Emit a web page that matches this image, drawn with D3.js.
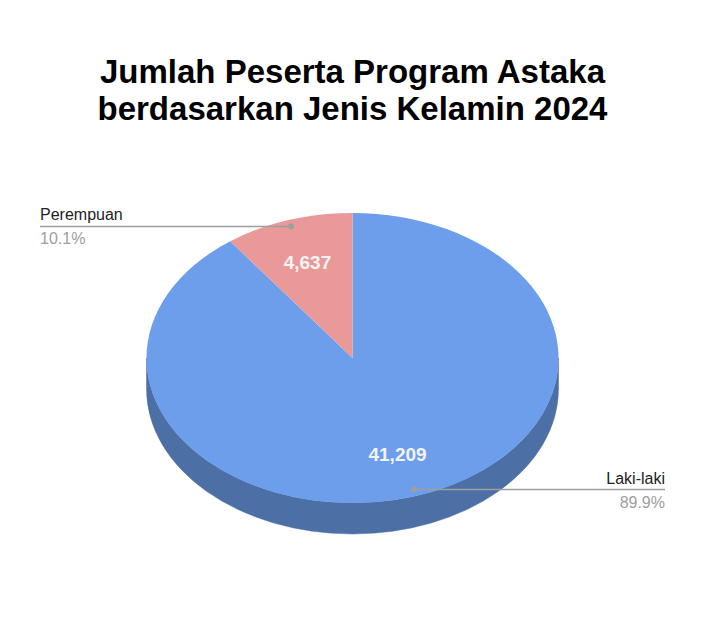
<!DOCTYPE html>
<html>
<head>
<meta charset="utf-8">
<script src="https://cdn.jsdelivr.net/npm/d3@7"></script>
<style>
  body { margin: 0; background: #fff; }
  text { font-family: "Liberation Sans", Arial, sans-serif; }
</style>
</head>
<body>
<div id="chart"></div>
<script>
// chart data
const categories = ["Laki-laki", "Perempuan"];
const values = [41209, 4637];
const titleLines = ["Jumlah Peserta Program Astaka", "berdasarkan Jenis Kelamin 2024"];
const colors = ["#6d9eeb", "#ea9999"];
const sideColors = ["#4c70a6", "#a66b6b"];

const w = 705;
const h = 640;

// pie geometry (ellipse seen at an angle)
const cx = 352.5;
const cy = 358;
const rx = 206;
const ry = 145;
const depth = 31;

const svg = d3
  .select("#chart")
  .append("svg")
  .attr("width", w)
  .attr("height", h);

// title
svg
  .append("text")
  .attr("x", cx)
  .attr("y", 83)
  .attr("text-anchor", "middle")
  .style("font-size", "33px")
  .style("font-weight", "bold")
  .style("fill", "#000")
  .selectAll("tspan")
  .data(titleLines)
  .enter()
  .append("tspan")
  .attr("x", cx)
  .attr("dy", (d, i) => (i === 0 ? 0 : 37))
  .text((d) => d);

const pie = d3.pie().sort(null).value((d) => d)(values);
const total = d3.sum(values);

// point on ellipse for d3 angle (clockwise from 12 o'clock)
const pt = (a, r, dy = 0) => [cx + rx * r * Math.sin(a), cy - ry * r * Math.cos(a) + dy];

// side walls: only the front half (angles between PI/2 and 3PI/2) is visible
pie.forEach((s, i) => {
  const a0 = Math.max(s.startAngle, Math.PI / 2);
  const a1 = Math.min(s.endAngle, (3 * Math.PI) / 2);
  if (a1 <= a0) return;
  const p0 = pt(a0, 1);
  const p1 = pt(a1, 1);
  const q0 = pt(a0, 1, depth);
  const q1 = pt(a1, 1, depth);
  const large = a1 - a0 > Math.PI ? 1 : 0;
  const d =
    `M${p0}A${rx},${ry} 0 ${large} 1 ${p1}` +
    `L${q1}A${rx},${ry} 0 ${large} 0 ${q0}Z`;
  svg.append("path").attr("d", d).attr("fill", sideColors[i]).attr("stroke", sideColors[i]).attr("stroke-width", 0.5);
});

// top face
const arc = d3.arc().innerRadius(0).outerRadius(rx);
const topFace = svg
  .append("g")
  .attr("transform", `translate(${cx},${cy}) scale(1,${ry / rx})`);

topFace
  .selectAll("path")
  .data(pie)
  .enter()
  .append("path")
  .attr("d", arc)
  .attr("fill", (d, i) => colors[i]);

// value labels inside slices
pie.forEach((s, i) => {
  const mid = (s.startAngle + s.endAngle) / 2;
  const p = pt(mid, 0.7);
  svg
    .append("text")
    .attr("x", p[0])
    .attr("y", p[1] + 7)
    .attr("text-anchor", "middle")
    .style("font-size", "19px")
    .style("font-weight", "bold")
    .style("fill", "#f3f3f3")
    .text(d3.format(",")(values[i]));
});

// callout labels
const fmtPct = d3.format(".1%");
pie.forEach((s, i) => {
  const mid = (s.startAngle + s.endAngle) / 2;
  const p = pt(mid, 0.955);
  const right = Math.sin(mid) > 0;
  const endX = right ? 665 : 40;
  const anchor = right ? "end" : "start";

  svg
    .append("line")
    .attr("x1", p[0])
    .attr("y1", p[1])
    .attr("x2", endX)
    .attr("y2", p[1])
    .attr("stroke", "#9e9e9e")
    .attr("stroke-width", 1.5);

  svg
    .append("circle")
    .attr("cx", p[0])
    .attr("cy", p[1])
    .attr("r", 3)
    .attr("fill", "#9e9e9e");

  svg
    .append("text")
    .attr("x", endX)
    .attr("y", p[1] - 6)
    .attr("text-anchor", anchor)
    .style("font-size", "16px")
    .style("fill", "#222")
    .text(categories[i]);

  svg
    .append("text")
    .attr("x", endX)
    .attr("y", p[1] + 18)
    .attr("text-anchor", anchor)
    .style("font-size", "16px")
    .style("fill", "#9e9e9e")
    .text(fmtPct(values[i] / total));
});
</script>
</body>
</html>
